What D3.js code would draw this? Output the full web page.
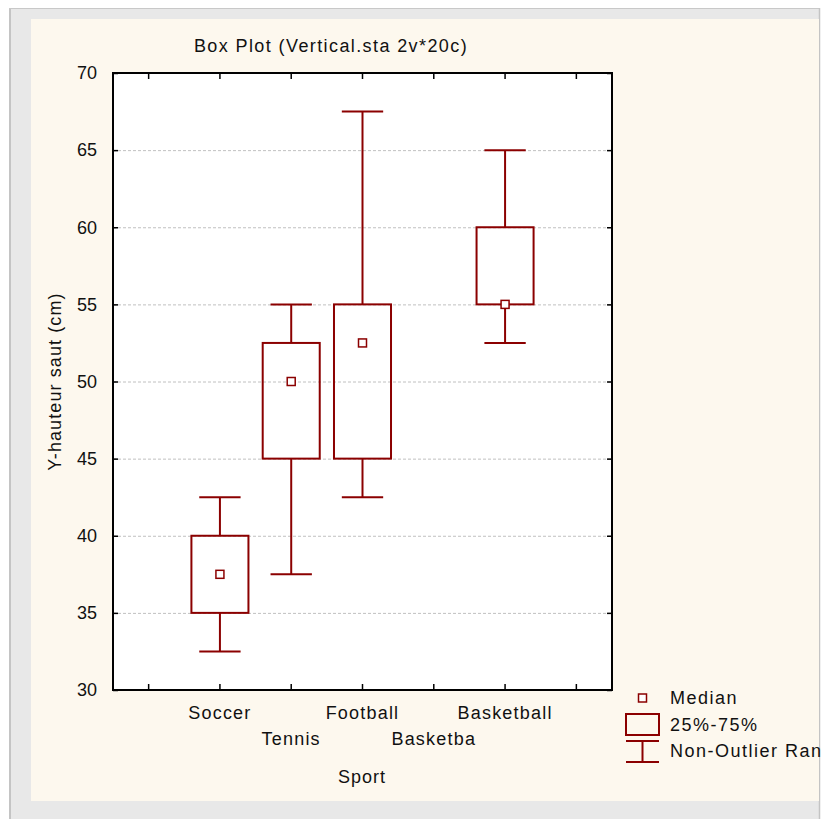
<!DOCTYPE html>
<html>
<head>
<meta charset="utf-8">
<script src="https://cdn.jsdelivr.net/npm/d3@7"></script>
<style>
  html, body { margin: 0; padding: 0; background: #ffffff; }
  svg { display: block; }
  text { font-family: "Liberation Sans", Arial, sans-serif; fill: #111; }
</style>
</head>
<body>
<svg id="chart" width="833" height="819"></svg>
<script>
// ---- data ----
const title = "Box Plot (Vertical.sta 2v*20c)";
const yLabel = "Y-hauteur saut (cm)";
const xLabel = "Sport";
const categories = ["Soccer", "Tennis", "Football", "Basketba", "Basketball"];
const whiskerLow  = [32.5, 37.5, 42.5, null, 52.5];
const q1          = [35,   45,   45,   null, 55];
const median      = [37.5, 50,   52.5, null, 55];
const q3          = [40,   52.5, 55,   null, 60];
const whiskerHigh = [42.5, 55,   67.5, null, 65];
const yTicks = [30, 35, 40, 45, 50, 55, 60, 65, 70];
const legendLabels = ["Median", "25%-75%", "Non-Outlier Ran"];

// ---- layout ----
const svg = d3.select("#chart");
const color = "#8b0000";
const plot = { left: 113, top: 73, right: 612, bottom: 690 };

// background frame
svg.append("rect").attr("x", 9).attr("y", 8).attr("width", 811).attr("height", 820)
  .attr("fill", "#e8e8e8");
svg.append("line").attr("x1", 10).attr("x2", 10).attr("y1", 8).attr("y2", 819).attr("stroke", "#c4c4c4").attr("stroke-width", 2);
svg.append("line").attr("x1", 9).attr("x2", 820).attr("y1", 8.5).attr("y2", 8.5).attr("stroke", "#c8c8c8").attr("stroke-width", 1);
svg.append("line").attr("x1", 819.5).attr("x2", 819.5).attr("y1", 8).attr("y2", 819).attr("stroke", "#c4c4c4").attr("stroke-width", 1.5);
svg.append("rect").attr("x", 31).attr("y", 19).attr("width", 788).attr("height", 782)
  .attr("fill", "#fdf8ee");

// scales
const bandDomain = ["_left", ...categories, "_right"];
const x = d3.scaleBand().domain(bandDomain).range([plot.left, plot.right]).padding(0);
const xc = d => x(d) + x.bandwidth() / 2;
const y = d3.scaleLinear().domain([30, 70]).range([plot.bottom, plot.top]);

// plot background
svg.append("rect").attr("x", plot.left).attr("y", plot.top)
  .attr("width", plot.right - plot.left).attr("height", plot.bottom - plot.top)
  .attr("fill", "#ffffff");

// gridlines
svg.append("g").selectAll("line").data(yTicks.filter(t => t > 30 && t < 70)).join("line")
  .attr("x1", plot.left).attr("x2", plot.right)
  .attr("y1", d => y(d) + 0.5).attr("y2", d => y(d) + 0.5)
  .attr("stroke", "#c0c0c0").attr("stroke-width", 1).attr("stroke-dasharray", "3,2");

// axes
const leftAxis = d3.axisLeft(y).tickValues(yTicks).tickSize(-5).tickPadding(16).tickFormat(d3.format("d"));
const gL = svg.append("g").attr("transform", `translate(${plot.left},0)`).call(leftAxis);
gL.select(".domain").remove();
gL.selectAll("line").attr("stroke", "#000").attr("stroke-width", 1.5);
gL.selectAll("text").style("font-size", "18px").attr("fill", "#111")
  .attr("font-family", "Liberation Sans, Arial, sans-serif");

const rightAxis = d3.axisRight(y).tickValues(yTicks).tickSize(-5).tickFormat("");
const gR = svg.append("g").attr("transform", `translate(${plot.right},0)`).call(rightAxis);
gR.select(".domain").remove();
gR.selectAll("line").attr("stroke", "#000").attr("stroke-width", 1.5);

const bottomAxis = d3.axisBottom(x).tickSize(-6).tickFormat("");
const gB = svg.append("g").attr("transform", `translate(0,${plot.bottom})`).call(bottomAxis);
gB.select(".domain").remove();
gB.selectAll("line").attr("stroke", "#000").attr("stroke-width", 1.5);

const topAxis = d3.axisTop(x).tickSize(-6).tickFormat("");
const gT = svg.append("g").attr("transform", `translate(0,${plot.top})`).call(topAxis);
gT.select(".domain").remove();
gT.selectAll("line").attr("stroke", "#000").attr("stroke-width", 1.5);

// frame
svg.append("rect").attr("x", plot.left).attr("y", plot.top)
  .attr("width", plot.right - plot.left).attr("height", plot.bottom - plot.top)
  .attr("fill", "none").attr("stroke", "#000").attr("stroke-width", 2);

// x category labels (staggered)
svg.append("g").selectAll("text").data(categories).join("text")
  .attr("x", d => xc(d))
  .attr("y", (d, i) => i % 2 === 0 ? 719 : 745)
  .attr("text-anchor", "middle")
  .style("font-size", "18px").style("letter-spacing", "1.2px")
  .text(d => d);

// titles
svg.append("text").attr("x", 331).attr("y", 52).attr("text-anchor", "middle")
  .style("font-size", "18px").style("letter-spacing", "1.4px").text(title);
svg.append("text").attr("x", 362).attr("y", 783).attr("text-anchor", "middle")
  .style("font-size", "18px").style("letter-spacing", "1px").text(xLabel);
svg.append("text").attr("transform", `translate(61,${(plot.top + plot.bottom) / 2}) rotate(-90)`)
  .attr("text-anchor", "middle")
  .style("font-size", "18px").style("letter-spacing", "1.1px").text(yLabel);

// boxes
const boxW = x.bandwidth() * 0.8;
const capW = x.bandwidth() * 0.58;
const stats = categories.map((c, i) => ({
  c, lo: whiskerLow[i], q1: q1[i], med: median[i], q3: q3[i], hi: whiskerHigh[i]
})).filter(d => d.med !== null);

const gBox = svg.append("g");
const sel = gBox.selectAll("g").data(stats).join("g");
// whisker stems
sel.append("line").attr("x1", d => xc(d.c)).attr("x2", d => xc(d.c))
  .attr("y1", d => y(d.hi)).attr("y2", d => y(d.q3))
  .attr("stroke", color).attr("stroke-width", 2);
sel.append("line").attr("x1", d => xc(d.c)).attr("x2", d => xc(d.c))
  .attr("y1", d => y(d.q1)).attr("y2", d => y(d.lo))
  .attr("stroke", color).attr("stroke-width", 2);
// caps
sel.append("line").attr("x1", d => xc(d.c) - capW / 2).attr("x2", d => xc(d.c) + capW / 2)
  .attr("y1", d => y(d.hi)).attr("y2", d => y(d.hi))
  .attr("stroke", color).attr("stroke-width", 2);
sel.append("line").attr("x1", d => xc(d.c) - capW / 2).attr("x2", d => xc(d.c) + capW / 2)
  .attr("y1", d => y(d.lo)).attr("y2", d => y(d.lo))
  .attr("stroke", color).attr("stroke-width", 2);
// boxes
sel.append("rect").attr("x", d => xc(d.c) - boxW / 2).attr("width", boxW)
  .attr("y", d => y(d.q3)).attr("height", d => y(d.q1) - y(d.q3))
  .attr("fill", "none").attr("stroke", color).attr("stroke-width", 2);
// median markers
sel.append("rect").attr("x", d => xc(d.c) - 4).attr("y", d => y(d.med) - 4)
  .attr("width", 8).attr("height", 8)
  .attr("fill", "#ffffff").attr("stroke", color).attr("stroke-width", 1.5);

// legend
const lg = svg.append("g");
const symX = 642.5;
lg.append("rect").attr("x", symX - 4).attr("y", 694).attr("width", 8).attr("height", 8)
  .attr("fill", "#ffffff").attr("stroke", color).attr("stroke-width", 1.5);
lg.append("rect").attr("x", 626).attr("y", 714).attr("width", 33).attr("height", 21)
  .attr("fill", "none").attr("stroke", color).attr("stroke-width", 2);
lg.append("line").attr("x1", 626).attr("x2", 659).attr("y1", 741).attr("y2", 741)
  .attr("stroke", color).attr("stroke-width", 2);
lg.append("line").attr("x1", 626).attr("x2", 659).attr("y1", 762).attr("y2", 762)
  .attr("stroke", color).attr("stroke-width", 2);
lg.append("line").attr("x1", symX).attr("x2", symX).attr("y1", 741).attr("y2", 762)
  .attr("stroke", color).attr("stroke-width", 2);
lg.selectAll("text").data(legendLabels).join("text")
  .attr("x", 670).attr("y", (d, i) => 704 + i * 26.5)
  .style("font-size", "18px").style("letter-spacing", "1.5px")
  .text(d => d);
</script>
</body>
</html>
